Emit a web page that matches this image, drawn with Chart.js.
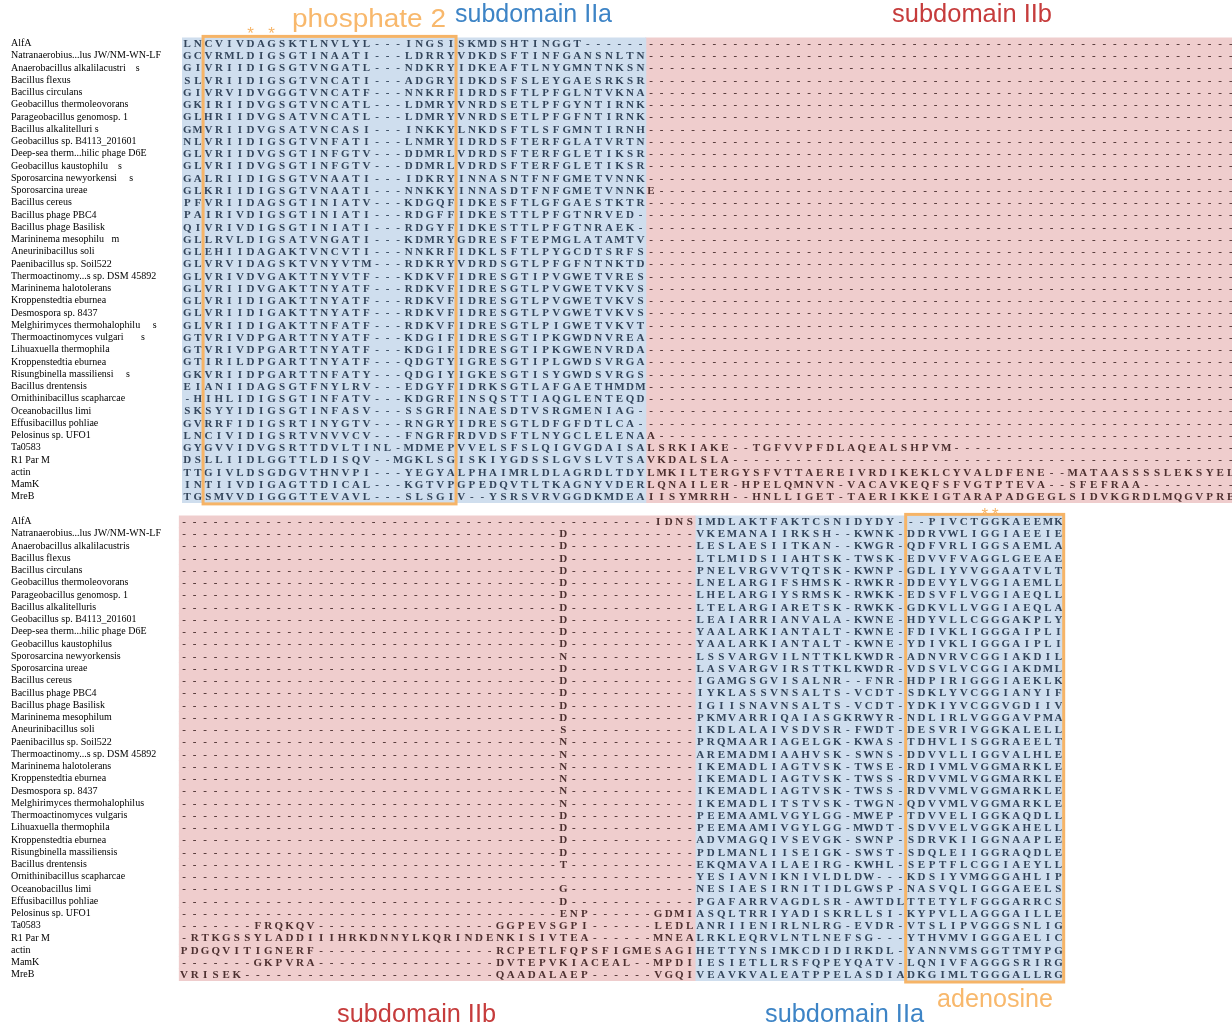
<!DOCTYPE html>
<html>
<head>
<meta charset="utf-8">
<script src="https://cdn.jsdelivr.net/npm/chart.js@4.4.0/dist/chart.umd.min.js"></script>
<style>
  html, body { margin: 0; padding: 0; background: #ffffff; }
  #wrap { position: relative; width: 1232px; height: 1022px; overflow: hidden; background: #ffffff; }
  canvas { position: absolute; left: 0; }
  #panelTop { top: 0; }
  #panelBottom { top: 495px; }
</style>
</head>
<body>
<div id="wrap">
  <canvas id="panelTop" width="1232" height="512"></canvas>
  <canvas id="panelBottom" width="1232" height="527"></canvas>
</div>
<script>
// ---- alignment gap helper (runs of '-') ----
const gap = n => '-'.repeat(n);

// ---- sequence names (row labels) ----
const namesTop = [
  'AlfA', 'Natranaerobius...lus JW/NM-WN-LF', 'Anaerobacillus alkalilacustri    s', 'Bacillus flexus',
  'Bacillus circulans', 'Geobacillus thermoleovorans', 'Parageobacillus genomosp. 1', 'Bacillus alkalitelluri s',
  'Geobacillus sp. B4113_201601', 'Deep-sea therm...hilic phage D6E', 'Geobacillus kaustophilu    s',
  'Sporosarcina newyorkensi     s', 'Sporosarcina ureae', 'Bacillus cereus', 'Bacillus phage PBC4',
  'Bacillus phage Basilisk', 'Marininema mesophilu   m', 'Aneurinibacillus soli', 'Paenibacillus sp. Soil522',
  'Thermoactinomy...s sp. DSM 45892', 'Marininema halotolerans', 'Kroppenstedtia eburnea', 'Desmospora sp. 8437',
  'Melghirimyces thermohalophilu     s', 'Thermoactinomyces vulgari       s', 'Lihuaxuella thermophila',
  'Kroppenstedtia eburnea', 'Risungbinella massiliensi     s', 'Bacillus drentensis', 'Ornithinibacillus scapharcae',
  'Oceanobacillus limi', 'Effusibacillus pohliae', 'Pelosinus sp. UFO1', 'Ta0583', 'R1 Par M', 'actin', 'MamK', 'MreB'
];
const namesBottom = [
  'AlfA', 'Natranaerobius...lus JW/NM-WN-LF', 'Anaerobacillus alkalilacustris', 'Bacillus flexus',
  'Bacillus circulans', 'Geobacillus thermoleovorans', 'Parageobacillus genomosp. 1', 'Bacillus alkalitelluris',
  'Geobacillus sp. B4113_201601', 'Deep-sea therm...hilic phage D6E', 'Geobacillus kaustophilus',
  'Sporosarcina newyorkensis', 'Sporosarcina ureae', 'Bacillus cereus', 'Bacillus phage PBC4',
  'Bacillus phage Basilisk', 'Marininema mesophilum', 'Aneurinibacillus soli', 'Paenibacillus sp. Soil522',
  'Thermoactinomy...s sp. DSM 45892', 'Marininema halotolerans', 'Kroppenstedtia eburnea', 'Desmospora sp. 8437',
  'Melghirimyces thermohalophilus', 'Thermoactinomyces vulgaris', 'Lihuaxuella thermophila',
  'Kroppenstedtia eburnea', 'Risungbinella massiliensis', 'Bacillus drentensis', 'Ornithinibacillus scapharcae',
  'Oceanobacillus limi', 'Effusibacillus pohliae', 'Pelosinus sp. UFO1', 'Ta0583', 'R1 Par M', 'actin', 'MamK', 'MreB'
];

// ---- upper block: subdomain IIa part (columns 0-43) ----
const topIIa = [
  'LNCVIVDAGSKTLNVLYL---INGSISKMDSHTINGGT------',
  'GCVRMLDIGSGTINAATI---LDRRYVDKDSFTINFGANSNLTN',
  'GIVRIIDIGSGTVNGATL---NDKRYIDKEAFTLNYGMNTNKSN',
  'SLVRIIDIGSGTVNCATI---ADGRYIDKDSFSLEYGAESRKSR',
  'GIVRVIDVGGGTVNCATF---NNKRFIDRDSFTLPFGLNTVKNA',
  'GKIRIIDVGSGTVNCATL---LDMRYVNRDSETLPFGYNTIRNK',
  'GLHRIIDVGSATVNCATL---LDMRYVNRDSETLPFGFNTIRNK',
  'GMVRIIDVGSATVNCASI---INKKYLNKDSFTLSFGMNTIRNH',
  'NLVRIIDIGSGTVNFATI---LNMRYIDRDSFTERFGLATVRTN',
  'GLVRIIDVGSGTINFGTV---DDMRLVDRDSFTERFGLETIKSR',
  'GLVRIIDVGSGTINFGTV---DDMRLVDRDSFTERFGLETIKSR',
  'GALRIIDIGSGTVNAATI---IDKRYINNASNTFNFGMETVNNK',
  'GLKRIIDIGSGTVNAATI---NNKKYINNASDTFNFGMETVNNK',
  'PFVRIIDAGSGTINIATV---KDGQFIDKESFTLGFGAESTKTR',
  'PAIRIVDIGSGTINIATI---RDGFFIDKESTTLPFGTNRVED-',
  'QIVRIVDIGSGTINIATI---RDGYFIDKESTTLPFGTNRAEK-',
  'GLLRVLDIGSATVNGATI---KDMRYGDRESFTEPMGLATAMTV',
  'GLEHIIDAGAKTVNCVTI---NNKRFIDKLSFTLPYGCDTSRFS',
  'GLVRVIDAGSKTVNYVTM---RDKRYVDRDSGTLPFGFNTNKTD',
  'GLVRIVDVGAKTTNYVTF---KDKVFIDRESGTIPVGWETVRES',
  'GLVRIIDVGAKTTNYATF---RDKVFIDRESGTLPVGWETVKVS',
  'GLVRIIDIGAKTTNYATF---RDKVFIDRESGTLPVGWETVKVS',
  'GLVRIIDIGAKTTNYATF---RDKVFIDRESGTLPVGWETVKVS',
  'GLVRIIDIGAKTTNFATF---RDKVFIDRESGTLPIGWETVKVT',
  'GTVRIVDPGARTTNYATF---KDGIFIDRESGTIPKGWDNVREA',
  'GTVRIVDPGARTTNYATF---KDGIFIDRESGTIPKGWENVRDA',
  'GTIRILDPGARTTNYATF---QDGTYIGRESGTIPLGWDSVRGA',
  'GKVRIIDPGARTTNFATY---QDGIYIGKESGTISYGWDSVRGS',
  'EIANIIDAGSGTFNYLRV---EDGYFIDRKSGTLAFGAETHMDM',
  '-HIHLIDIGSGTINFATV---KDGRFINSQSTTIAQGLENTEQD',
  'SKSYYIDIGSGTINFASV---SSGRFINAESDTVSRGMENIAG-',
  'GVRRFIDIGSRTINYGTV---RNGRYIDRESGTLDFGFDTLCA-',
  'LNCIVIDIGSRTVNVVCV---FNGRFRDVDSFTLNYGCLELENA',
  'GYGVVIDVGSRTTDVLTINL-MDMEPVVELSFSLQIGVGDAISA',
  'DSLLIIDLGGTTLDISQV--MGKLSGISKIYGDSSLGVSLVTSA',
  'TTGIVLDSGDGVTHNVPI---YEGYALPHAIMRLDLAGRDLTDY',
  'INTIIVDIGAGTTDICAL---KGTVPGPEDQVTLTKAGNYVDER',
  'TGSMVVDIGGGTTEVAVL---SLSGIV--YSRSVRVGGDKMDEA'
];

// ---- upper block: subdomain IIb part (columns 44-99) ----
const topIIb = [
  gap(56), gap(56), gap(56), gap(56), gap(56), gap(56), gap(56), gap(56), gap(56), gap(56), gap(56), gap(56),
  'E' + gap(55),
  gap(56), gap(56), gap(56), gap(56), gap(56), gap(56), gap(56), gap(56), gap(56), gap(56),
  gap(56), gap(56), gap(56), gap(56), gap(56), gap(56), gap(56), gap(56), gap(56),
  'A' + gap(55),
  'LSRKIAKE--TGFVVPFDLAQEALSHPVM' + gap(27),
  'VKDALSLA' + gap(48),
  'LMKILTERGYSFVTTAEREIVRDIKEKLCYVALDFENE--MATAASSSSLEKSYEL',
  'LQNAILER-HPELQMNVN-VACAVKEQFSFVGTPTEVA--SFEFRAA' + gap(9),
  'IISYMRRH--HNLLIGET-TAERIKKEIGTARAPADGEGLSIDVKGRDLMQGVPRE'
];

// ---- lower block: subdomain IIb part (columns 0-48) ----
const bottomIIb = [
  gap(45) + 'IDNS',
  gap(36) + 'D' + gap(12), gap(36) + 'D' + gap(12), gap(36) + 'D' + gap(12), gap(36) + 'D' + gap(12),
  gap(36) + 'D' + gap(12), gap(36) + 'D' + gap(12), gap(36) + 'D' + gap(12), gap(36) + 'D' + gap(12),
  gap(36) + 'D' + gap(12), gap(36) + 'D' + gap(12),
  gap(36) + 'N' + gap(12),
  gap(36) + 'D' + gap(12), gap(36) + 'D' + gap(12), gap(36) + 'D' + gap(12), gap(36) + 'D' + gap(12),
  gap(36) + 'D' + gap(12),
  gap(36) + 'S' + gap(12),
  gap(36) + 'N' + gap(12), gap(36) + 'N' + gap(12), gap(36) + 'N' + gap(12), gap(36) + 'N' + gap(12),
  gap(36) + 'N' + gap(12), gap(36) + 'N' + gap(12),
  gap(36) + 'D' + gap(12), gap(36) + 'D' + gap(12), gap(36) + 'D' + gap(12), gap(36) + 'D' + gap(12),
  gap(36) + 'T' + gap(12),
  gap(49),
  gap(36) + 'G' + gap(12),
  gap(36) + 'D' + gap(12),
  gap(36) + 'ENP' + gap(6) + 'GDMI',
  gap(7) + 'FRQKQV' + gap(17) + 'GGPEVSGPI' + gap(6) + 'LEDL',
  '-RTKGSSYLADDIIIHRKDNNYLKQRINDENKISIVTEA' + gap(6) + 'MNEA',
  'PDGQVITIGNERF' + gap(17) + 'RCPETLFQPSFIGMESAGI',
  gap(7) + 'GKPVRA' + gap(17) + 'DVTEPVKIACEAL--MPDI',
  'VRISEK' + gap(24) + 'QAADALAEP' + gap(6) + 'VGQI'
];

// ---- lower block: subdomain IIa part (columns 49-68) ----
const bottomIIa = [
  'IMDLAKTFAKTCSNIDYDY-', 'VKEMANAIIRKSH--KWNK-', 'LESLAESIITKAN--KWGR-', 'LTLMIDSIIAHTSK-TWSK-',
  'PNELVRGVVTQTSK-KWNP-', 'LNELARGIFSHMSK-RWKR-', 'LHELARGIYSRMSK-RWKK-', 'LTELARGIARETSK-RWKK-',
  'LEAIARRIANVALA-KWNE-', 'YAALARKIANTALT-KWNE-', 'YAALARKIANTALT-KWNE-', 'LSSVARGVILNTTKLKWDR-',
  'LASVARGVIRSTTKLKWDR-', 'IGAMGSGVISALNR--FNR-', 'IYKLASSVNSALTS-VCDT-', 'IGIISNAVNSALTS-VCDT-',
  'PKMVARRIQAIASGKRWYR-', 'IKDLALAIVSDVSR-FWDT-', 'PRQMAARIAGELGK-KWAS-', 'AREMADMIAAHVSK-SWNS-',
  'IKEMADLIAGTVSK-TWSE-', 'IKEMADLIAGTVSK-TWSS-', 'IKEMADLIAGTVSK-TWSS-', 'IKEMADLITSTVSK-TWGN-',
  'PEEMAAMLVGYLGG-MWEP-', 'PEEMAAMIVGYLGG-MWDT-', 'ADVMAGQIVSEVGK-SWNP-', 'PDLMANLIISEIGK-SWST-',
  'EKQMAVAILAEIRG-KWHL-', 'YESIAVNIKNIVLDLDW---', 'NESIAESIRNITIDLGWSP-', 'PGAFARRVAGDLSR-AWTDL',
  'ASQLTRRIYADISKRLLSI-', 'ANRIIENIRLNLRG-EVDR-', 'LRKLEQRVLNTLNEFSG---', 'HETTYNSIMKCDIDIRKDL-',
  'IESIETLLRSFQPEYQATV-', 'VEAVKVALEATPPELASDIA'
];

// ---- lower block: adenosine motif (columns 69-83) ----
const bottomAdenosine = [
  '--PIVCTGGKAEEMK', 'DDRVWLIGGIAEEIE', 'QDFVRLIGGSAEMLA', 'EDVVFVAGGLGEEAE', 'GDLIYVVGGAATVLT',
  'DDEVYLVGGIAEMLL', 'EDSVFLVGGIAEQLL', 'GDKVLLVGGIAEQLA', 'HDYVLLCGGGAKPLY', 'FDIVKLIGGGAIPLI',
  'YDIVKLIGGGAIPLI', 'ADNVRVCGGIAKDIL', 'VDSVLVCGGIAKDML', 'HDPIRIGGGIAEKLK', 'SDKLYVCGGIANYIF',
  'YDKIYVCGGVGDIIV', 'NDLIRLVGGGAVPMA', 'DESVRIVGGKALELL', 'TDHVLISGGRAEELT', 'DDVVLLIGGVALHLE',
  'RDIVMLVGGMARKLE', 'RDVVMLVGGMARKLE', 'RDVVMLVGGMARKLE', 'QDVVMLVGGMARKLE', 'TDVVELIGGKAQDLL',
  'SDVVELVGGKAHELL', 'SDRVKIIGGNAAPLE', 'SDQLEIIGGRAQDLE', 'SEPTFLCGGIAEYLL', 'KDSIYVMGGGAHLIP',
  'NASVQLIGGGAEELS', 'TTETYLFGGGARRCS', 'KYPVLLAGGGAILLE', 'VTSLIPVGGGSNLIG', 'YTHVMVIGGGAELIC',
  'YANNVMSGGTTMYPG', 'LQNIVFAGGGSRIRG', 'DKGIMLTGGGALLRG'
];

// ---- motif positions (alignment columns) ----
const phosphateFrame = [2, 25];
const adenosineFrame = [69, 83];
const phosphateStars = [6, 8];
const adenosineStars = [76, 77];

// ---- palette ----
const FILL_IIA = '#cfdeee';
const FILL_IIB = '#efcdcd';
const INK_IIA = '#33455b';
const INK_IIB = '#4d3030';
const ORANGE = '#f6b467';
const LABEL_ORANGE = '#f8b86c';
const LABEL_BLUE = '#3d84c6';
const LABEL_RED = '#c63c3c';

// text label drawn to a fixed width (page coordinates)
function drawFittedText(ctx, text, color, left, right, baseline, size, offsetY) {
  ctx.save();
  ctx.font = size + 'px "Liberation Sans"';
  const w = ctx.measureText(text).width;
  ctx.translate(left, baseline - offsetY);
  ctx.scale((right - left) / w, 1);
  ctx.fillStyle = color;
  ctx.textAlign = 'left';
  ctx.textBaseline = 'alphabetic';
  ctx.fillText(text, 0, 0);
  ctx.restore();
}

function alignmentLayer(cfg) {
  return {
    id: 'alignmentLayer_' + cfg.id,
    afterDatasetsDraw(chart) {
      const { ctx, chartArea, scales } = chart;
      const x = scales.x, y = scales.y;
      ctx.save();
      // residues
      ctx.font = 'bold 11px "Liberation Serif"';
      ctx.textAlign = 'center';
      ctx.textBaseline = 'middle';
      cfg.segments.forEach(seg => {
        ctx.fillStyle = seg.ink;
        seg.rows.forEach((row, r) => {
          const py = y.getPixelForValue(r) + 0.5;
          for (let k = 0; k < row.length; k++) {
            const px = x.getPixelForValue(seg.start + k);
            if (px > chartArea.right + 6) break;
            ctx.fillText(row[k], px, py);
          }
        });
      });
      // motif frame
      const fx0 = x.getPixelForValue(cfg.frame[0] - 0.5);
      const fx1 = x.getPixelForValue(cfg.frame[1] + 0.5);
      ctx.strokeStyle = ORANGE;
      ctx.lineWidth = 3;
      ctx.strokeRect(fx0, chartArea.top - 1, fx1 - fx0, chartArea.bottom - chartArea.top + 2);
      // conserved-residue marks
      ctx.fillStyle = ORANGE;
      ctx.font = '17px "Liberation Sans"';
      ctx.textAlign = 'center';
      ctx.textBaseline = 'alphabetic';
      cfg.stars.forEach(c => ctx.fillText('*', x.getPixelForValue(c), cfg.starBaseline - cfg.offsetY));
      ctx.restore();
      // region titles
      cfg.titles.forEach(t => drawFittedText(ctx, t.text, t.color, t.left, t.right, t.baseline, 25, cfg.offsetY));
    }
  };
}

function buildPanel(cfg) {
  const datasets = cfg.segments.map(seg => ({
    type: 'bar',
    data: seg.rows.map(row => [seg.start - 0.5, seg.start + row.length - 0.5]),
    backgroundColor: seg.fill,
    borderWidth: 0,
    barPercentage: 1,
    categoryPercentage: 1,
    grouped: false,
    inflateAmount: 0.5
  }));
  return new Chart(document.getElementById(cfg.id), {
    type: 'bar',
    data: { labels: cfg.names, datasets },
    options: {
      indexAxis: 'y',
      responsive: false,
      animation: false,
      devicePixelRatio: 1,
      events: [],
      layout: { padding: cfg.padding },
      plugins: { legend: { display: false }, tooltip: { enabled: false } },
      scales: {
        x: { type: 'linear', min: -0.5, max: cfg.xMax, display: false },
        y: {
          type: 'category',
          offset: true,
          grid: { display: false, drawTicks: false },
          border: { display: false },
          ticks: {
            color: '#000000',
            font: { family: '"Liberation Serif"', size: 10 },
            crossAlign: 'far',
            padding: 0,
            autoSkip: false
          },
          afterFit: s => { s.width = cfg.axisWidth; }
        }
      }
    },
    plugins: [alignmentLayer(cfg)]
  });
}

// upper block: columns 0-43 IIa, 44-99 IIb
buildPanel({
  id: 'panelTop',
  names: namesTop,
  offsetY: 0,
  padding: { left: 11, right: 0, top: 37.4, bottom: 9.1 },
  axisWidth: 171,
  xMax: 99.12,
  segments: [
    { rows: topIIa, start: 0, fill: FILL_IIA, ink: INK_IIA },
    { rows: topIIb, start: 44, fill: FILL_IIB, ink: INK_IIB }
  ],
  frame: phosphateFrame,
  stars: phosphateStars,
  starBaseline: 39,
  titles: [
    { text: 'phosphate 2', color: LABEL_ORANGE, left: 292, right: 446, baseline: 27 },
    { text: 'subdomain IIa', color: LABEL_BLUE, left: 455, right: 612, baseline: 22 },
    { text: 'subdomain IIb', color: LABEL_RED, left: 892, right: 1052, baseline: 22 }
  ]
});

// lower block: columns 0-48 IIb, 49-68 IIa, 69-83 adenosine motif
buildPanel({
  id: 'panelBottom',
  names: namesBottom,
  offsetY: 495,
  padding: { left: 11, right: 168.3, top: 20.4, bottom: 41 },
  axisWidth: 167.8,
  xMax: 83.5,
  segments: [
    { rows: bottomIIb, start: 0, fill: FILL_IIB, ink: INK_IIB },
    { rows: bottomIIa, start: 49, fill: FILL_IIA, ink: INK_IIA },
    { rows: bottomAdenosine, start: 69, fill: FILL_IIA, ink: INK_IIA }
  ],
  frame: adenosineFrame,
  stars: adenosineStars,
  starBaseline: 520,
  titles: [
    { text: 'adenosine', color: LABEL_ORANGE, left: 937, right: 1053, baseline: 1007 },
    { text: 'subdomain IIb', color: LABEL_RED, left: 337, right: 496, baseline: 1022 },
    { text: 'subdomain IIa', color: LABEL_BLUE, left: 765, right: 924, baseline: 1022 }
  ]
});
</script>
</body>
</html>
